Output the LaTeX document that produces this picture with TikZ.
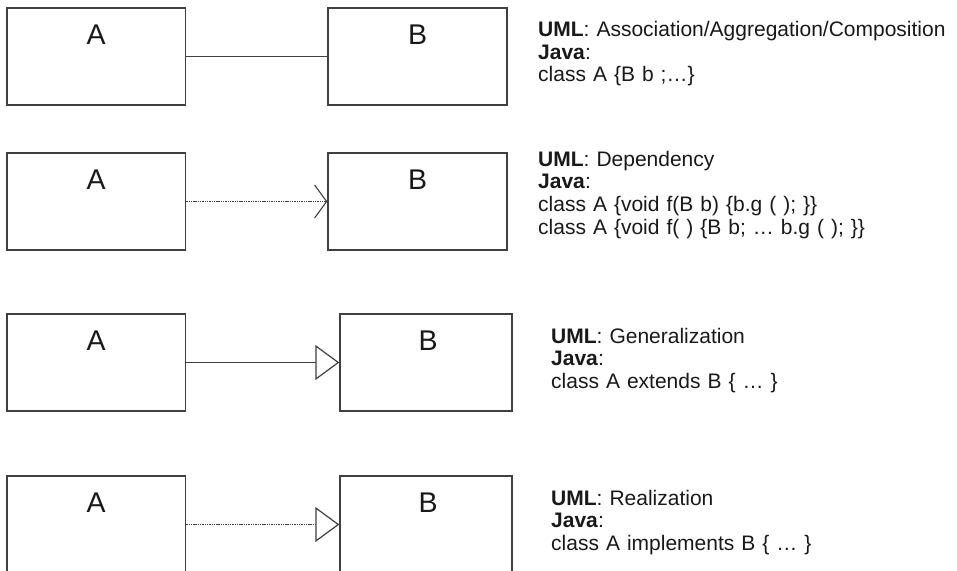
\documentclass[tikz,border=0pt]{standalone}
\usepackage{fontspec}
\setmainfont{Liberation Sans}
\usetikzlibrary{arrows.meta}
\tikzset{
  cls/.style={draw=black!75, line width=1.4pt, fill=white, inner sep=0pt, minimum height=97pt},
  lbl/.style={anchor=base, inner sep=0pt, font=\fontsize{28.5}{31}\selectfont, text=black!90},
  info/.style={anchor=base west, inner sep=0pt, text width=420pt, align=left, font=\fontsize{21}{22.7}\selectfont, text=black!90},
  conn/.style={draw=black!75, line width=1.4pt},
  dotline/.style={line width=1.3pt, dash pattern=on 1.4pt off 0.9pt},
  dep/.style={-{Straight Barb[length=12pt,width=33pt,line width=1.1pt]}},
  gen/.style={-{Triangle[open,length=24pt,width=35pt,line width=1.2pt,fill=white]}}
}
\begin{document}
\begin{tikzpicture}[x=1pt,y=-1pt]
\clip (0,0) rectangle (957,570);
\fill[white] (0,0) rectangle (957,570);
% row 1
\node[cls, minimum width=178.5pt] (a1) at (96.25,56.5) {};
\node[cls, minimum width=179pt] (b1) at (417.5,56.5) {};
\node[lbl] (a1t) at (96.25,44) {A};
\node[lbl] (b1t) at (417.5,44) {B};
\draw[conn] (a1.east) -- (b1.west);
\node[info] (t1) at (538,36.5) {\textbf{UML}: Association/Aggregation/Composition\\\textbf{Java}:\\class A \{B b ;\ldots\}};
% row 2
\node[cls, minimum width=178.5pt] (a2) at (96.25,201.5) {};
\node[cls, minimum width=179pt] (b2) at (417.5,201.5) {};
\node[lbl] (a2t) at (96.25,189.5) {A};
\node[lbl] (b2t) at (417.5,189.5) {B};
\draw[conn, dotline, dep] (a2.east) -- (b2.west);
\node[info] (t2) at (538,166) {\textbf{UML}: Dependency\\\textbf{Java}:\\class A \{void f(B b) \{b.g ( ); \}\}\\class A \{void f( ) \{B b; \ldots\ b.g ( ); \}\}};
% row 3
\node[cls, minimum width=178.5pt] (a3) at (96.25,362.5) {};
\node[cls, minimum width=172pt] (b3) at (426,362.5) {};
\node[lbl] (a3t) at (96.25,350) {A};
\node[lbl] (b3t) at (428,350) {B};
\draw[conn, gen] (a3.east) -- (b3.west);
\node[info] (t3) at (551,343) {\textbf{UML}: Generalization\\\textbf{Java}:\\class A extends B \{ \ldots\ \}};
% row 4
\node[cls, minimum width=178.5pt] (a4) at (96.25,524.5) {};
\node[cls, minimum width=172pt] (b4) at (426,524.5) {};
\node[lbl] (a4t) at (96.25,512) {A};
\node[lbl] (b4t) at (428,512) {B};
\draw[conn, dotline, gen] (a4.east) -- (b4.west);
\node[info] (t4) at (551,505) {\textbf{UML}: Realization\\\textbf{Java}:\\class A implements B \{ \ldots\ \}};
\end{tikzpicture}
\end{document}
